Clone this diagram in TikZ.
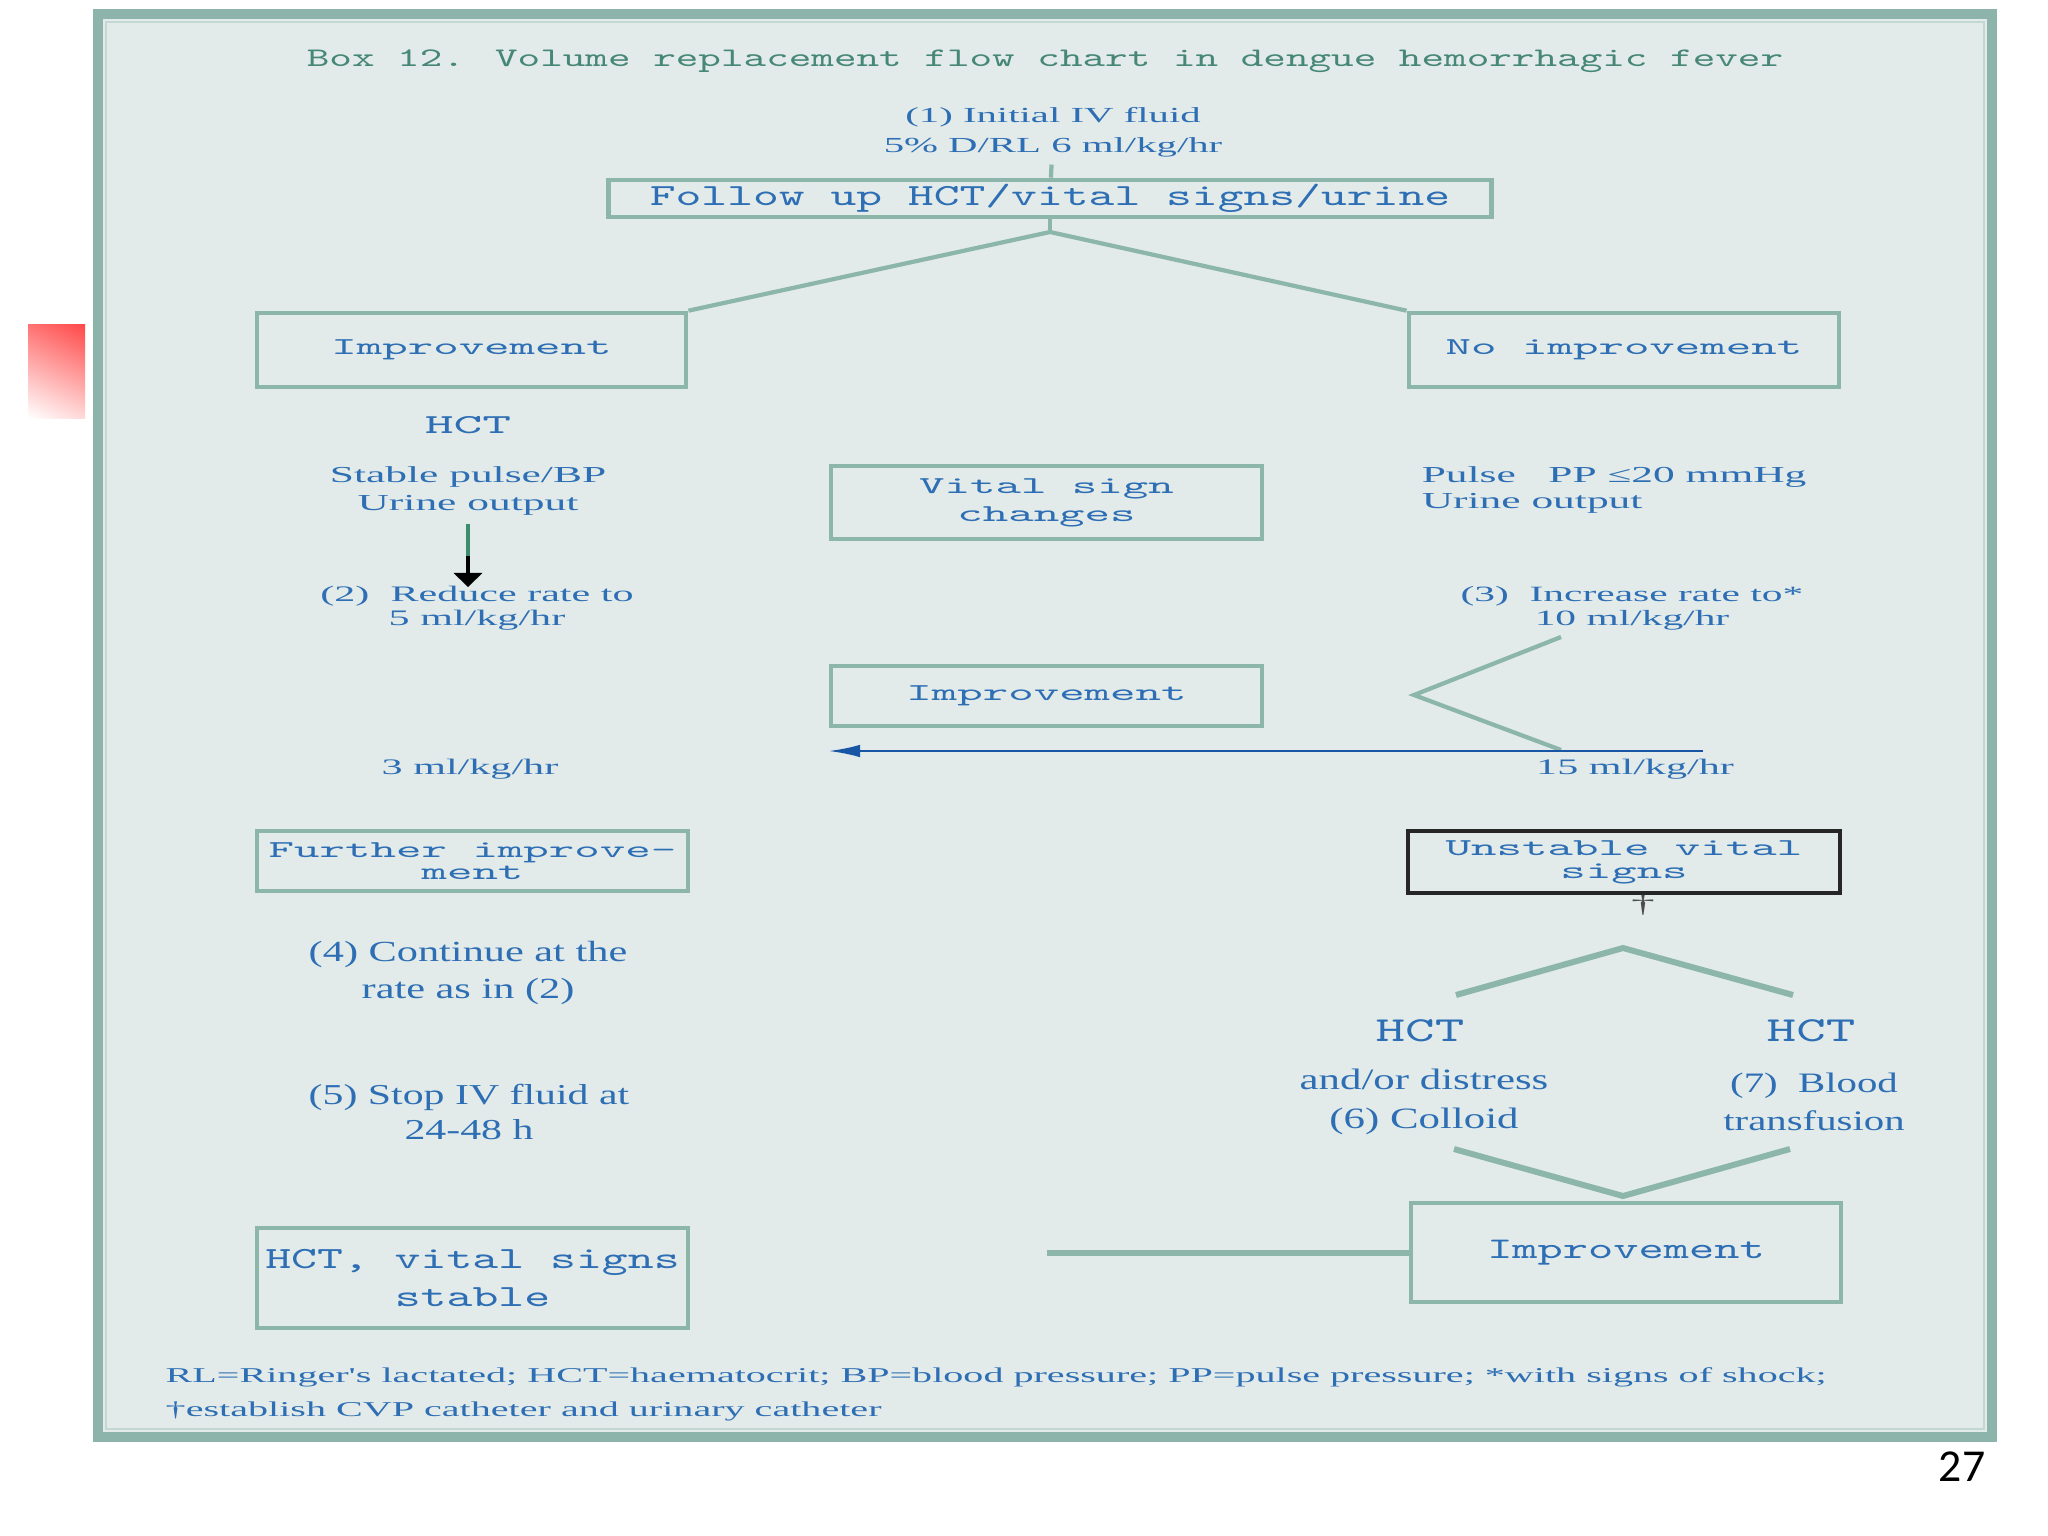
\documentclass[tikz,border=0pt]{standalone}
\usepackage{fontspec}
\usepackage{tikz}
\usetikzlibrary{arrows.meta,shadings}
\newfontfamily\headmono[FakeStretch=1.6]{lmmono10-regular.otf}
\newfontfamily\flatmono[FakeStretch=2.0]{lmmono10-regular.otf}
\newfontfamily\widerm[FakeStretch=1.9]{Liberation Serif}
\newfontfamily\midrm[FakeStretch=1.45]{Liberation Serif}
\newfontfamily\pagefont{Carlito}
\definecolor{paper}{RGB}{226,235,233}
\definecolor{rim}{RGB}{140,180,170}
\definecolor{rimlight}{RGB}{196,216,211}
\definecolor{wire}{RGB}{140,182,170}
\definecolor{ink}{RGB}{45,110,180}
\definecolor{headink}{RGB}{70,135,118}
\definecolor{arrowblue}{RGB}{25,85,165}
\definecolor{stemgreen}{RGB}{60,140,110}

\begin{document}
\begin{tikzpicture}[x=0.01cm,y=-0.01cm,
  flowbox/.style={draw=wire,line width=1.3pt,text=ink,inner sep=0pt,align=center},
  lightbox/.style={flowbox,font=\flatmono\fontsize{6.9}{8}\selectfont},
  link/.style={draw=wire,line width=1.2pt},
  heavylink/.style={draw=wire,line width=1.7pt},
  smallnote/.style={text=ink,inner sep=2pt,align=center,font=\widerm\fontsize{6.3}{7.2}\selectfont},
  bignote/.style={text=ink,inner sep=2pt,align=center,font=\midrm\fontsize{8.3}{10.5}\selectfont}]
\useasboundingbox (0,0) rectangle (2048,1536);
\fill[white] (0,0) rectangle (2048,1536);
\shade[upper left=red!55,upper right=red!72,lower left=white,lower right=red!15] (28,324) rectangle (85,418);
% frame of the box
\draw[rim,line width=2.8pt,fill=paper] (98,14) rectangle (1992,1437);
\draw[rimlight,line width=0.8pt] (106,22) rectangle (1984,1429);

\node[text=headink,font=\headmono\fontsize{7.65}{9}\selectfont] (title) at (1045,61)
  {Box 12. Volume replacement flow chart in dengue hemorrhagic fever};

% top of the chart
\node[smallnote,font=\widerm\fontsize{6.1}{8.5}\selectfont] (fluid) at (1053,132) {(1) Initial IV fluid\\5\% D/RL 6 ml/kg/hr};
\node[flowbox,minimum width=8.82cm,minimum height=0.37cm,font=\headmono\fontsize{8.74}{9}\selectfont] (follow) at (1050,198.5) {Follow up HCT/vital signs/urine};
\node[lightbox,minimum width=4.29cm,minimum height=0.74cm] (impL) at (471.5,350) {Improvement};
\node[lightbox,minimum width=4.30cm,minimum height=0.74cm] (noimp) at (1624,350) {No improvement};
\coordinate (fork) at (1050,232);
\draw[link] (fluid) -- (follow);
\draw[link] (follow.south) -- (fork);
\draw[link] (fork) -- (impL.north east);
\draw[link] (fork) -- (noimp.north west);

% left column
\node[text=ink,font=\flatmono\fontsize{7.8}{9}\selectfont] (hctA) at (468,425) {HCT};
\node[smallnote,font=\widerm\fontsize{6.5}{8.2}\selectfont] (stable) at (468,491) {Stable pulse/BP\\Urine output};
\node[smallnote,font=\widerm\fontsize{6.3}{6.8}\selectfont] (reduce) at (477,608) {(2)\ \ Reduce rate to\\5 ml/kg/hr};
\draw[black,line width=1.1pt,shorten >=-2.5pt,-{Triangle[length=4pt,width=8pt]}] (stable.south) -- (stable.south |- reduce.north);
\draw[stemgreen,line width=1.1pt] (stable.south) -- ++(0,32);
\node[smallnote] (slow) at (470,769) {3 ml/kg/hr};
\node[lightbox,minimum width=4.31cm,minimum height=0.60cm,font=\flatmono\fontsize{6.9}{6.3}\selectfont] (further) at (472.5,861) {Further improve-\\ment};
\node[bignote] (cont) at (468,973) {(4)\ Continue at the\\rate as in (2)};
\node[bignote,font=\midrm\fontsize{8.2}{9.7}\selectfont] (stop) at (469,1112) {(5) Stop IV fluid at\\24-48 h};
\node[flowbox,minimum width=4.31cm,minimum height=1.0cm,font=\headmono\fontsize{8.77}{11}\selectfont] (settled) at (472.5,1278) {HCT, vital signs\\stable};

% middle column
\node[lightbox,minimum width=4.31cm,minimum height=0.73cm] (vital) at (1046.5,502.5) {Vital sign\\changes};
\node[lightbox,minimum width=4.31cm,minimum height=0.60cm] (midimp) at (1046.5,696) {Improvement};

% right column
\node[smallnote,anchor=west,align=left,font=\widerm\fontsize{6.5}{7.4}\selectfont] (pulse) at (1414,490) {Pulse\ \ \ PP ≤20 mmHg\\Urine output};
\node[smallnote,font=\widerm\fontsize{6.2}{6.8}\selectfont] (incr) at (1632,608) {(3)\ \ Increase rate to*\\10 ml/kg/hr};
\coordinate (vtop) at (1561,637);
\coordinate (vtip) at (1414,695);
\coordinate (vbot) at (1561,750);
\draw[link] (vtop) -- (vtip) -- (vbot);
\coordinate (backstart) at (1703,751);
\draw[arrowblue,line width=0.7pt,-{Latex[length=9pt,width=3.6pt]}] (backstart) -- (midimp.south west |- backstart);
\node[smallnote] (fast) at (1635,769) {15 ml/kg/hr};
\node[lightbox,draw=black!85,minimum width=4.32cm,minimum height=0.62cm,font=\flatmono\fontsize{6.9}{6.6}\selectfont] (unstable) at (1624,862) {Unstable vital\\signs};
\node[text=black!70,inner sep=0pt,font=\widerm\fontsize{7}{8}\selectfont] (dag) at (1643,905) {†};
\coordinate (capL) at (1456,995);
\coordinate (capT) at (1623,948);
\coordinate (capR) at (1793,995);
\draw[heavylink] (capL) -- (capT) -- (capR);
\node[text=ink,font=\headmono\fontsize{10}{10}\selectfont] (hctL) at (1420,1031) {HCT};
\node[text=ink,font=\headmono\fontsize{10}{10}\selectfont] (hctR) at (1811,1031) {HCT};
\node[bignote,font=\midrm\fontsize{8.4}{11}\selectfont] (colloid) at (1424,1102) {and/or distress\\(6) Colloid};
\node[bignote,font=\midrm\fontsize{8.0}{11}\selectfont] (blood) at (1814,1102) {(7)\ \ Blood\\transfusion};
\coordinate (cupL) at (1454,1149);
\coordinate (cupB) at (1623,1196);
\coordinate (cupR) at (1790,1149);
\draw[heavylink] (cupL) -- (cupB) -- (cupR);
\node[flowbox,minimum width=4.30cm,minimum height=0.99cm,font=\headmono\fontsize{8.54}{9}\selectfont] (botimp) at (1626,1252.5) {Improvement};
\coordinate (joinend) at (1047,1252.5);
\draw[heavylink] (joinend) -- (botimp.west);

% legend and page number
\node[smallnote,anchor=west,align=left,font=\widerm\fontsize{6.0}{9.7}\selectfont] (legend) at (158,1394)
  {RL=Ringer's lactated; HCT=haematocrit; BP=blood pressure; PP=pulse pressure; *with signs of shock;\\†establish CVP catheter and urinary catheter};
\node[font=\pagefont\fontsize{13}{14}\selectfont] (pageno) at (1962,1467) {27};
\end{tikzpicture}
\end{document}
